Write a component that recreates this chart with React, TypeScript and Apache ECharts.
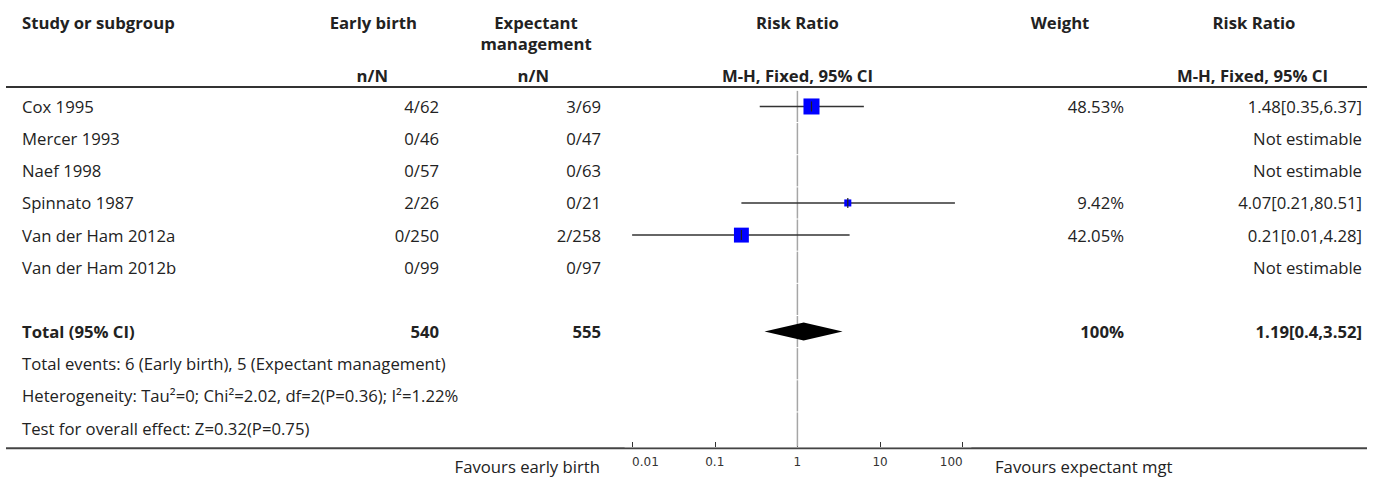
import React, { useEffect, useRef } from "react";
import * as echarts from "echarts";

// ---- Study data ----
const studies = [
  "Cox 1995",
  "Mercer 1993",
  "Naef 1998",
  "Spinnato 1987",
  "Van der Ham 2012a",
  "Van der Ham 2012b",
];
const earlyBirth = ["4/62", "0/46", "0/57", "2/26", "0/250", "0/99"];
const expectantMgmt = ["3/69", "0/47", "0/63", "0/21", "2/258", "0/97"];
const weights: (number | null)[] = [48.53, null, null, 9.42, 42.05, null];
const riskRatios: (number | null)[] = [1.48, null, null, 4.07, 0.21, null];
const ciLower: (number | null)[] = [0.35, null, null, 0.21, 0.01, null];
const ciUpper: (number | null)[] = [6.37, null, null, 80.51, 4.28, null];

// ---- Pooled result ----
const totalLabel = "Total (95% CI)";
const totalEarly = 540;
const totalExpectant = 555;
const totalWeight = 100;
const totalRR = 1.19;
const totalLower = 0.4;
const totalUpper = 3.52;

const footnotes = [
  "Total events: 6 (Early birth), 5 (Expectant management)",
  "Heterogeneity: Tau\u00b2=0; Chi\u00b2=2.02, df=2(P=0.36); I\u00b2=1.22%",
  "Test for overall effect: Z=0.32(P=0.75)",
];

// ---- Axis ----
const tickValues = [0.01, 0.1, 1, 10, 100];
const tickLabels = ["0.01", "0.1", "1", "10", "100"];
const axisFrom = 0.0082;
const axisTo = 126;

// ---- Layout ----
const W = 1373;
const H = 477;
const FONT = "'Open Sans', 'Noto Sans', sans-serif";
const FONT_SIZE = 16.7;
const TEXT = "#222";
const ROW_TOP = 90.4;
const ROW_BOTTOM = 447;
const Y_MIN = -0.5;
const Y_MAX = 10.59;
const TOTAL_ROW = 7;
const FOOT_ROW = 8;
const COL = { study: 22, early: 439, expectant: 601, weight: 1124, ratio: 1362 };

const lg = (v: number) => Math.log10(v);
const ciText = (rr: number, lo: number, hi: number) => `${rr}[${lo},${hi}]`;
const fontOf = (bold?: boolean) => `${bold ? "bold " : ""}${FONT_SIZE}px ${FONT}`;

type Cell = { x: number; row: number; text: string; align: string; bold?: boolean };

function buildCells(): Cell[] {
  const cells: Cell[] = [];
  studies.forEach((s, i) => {
    cells.push({ x: COL.study, row: i, text: s, align: "left" });
    cells.push({ x: COL.early, row: i, text: earlyBirth[i], align: "right" });
    cells.push({ x: COL.expectant, row: i, text: expectantMgmt[i], align: "right" });
    const w = weights[i];
    if (w != null) cells.push({ x: COL.weight, row: i, text: `${w}%`, align: "right" });
    const rr = riskRatios[i];
    const lo = ciLower[i];
    const hi = ciUpper[i];
    cells.push({
      x: COL.ratio,
      row: i,
      text: rr != null && lo != null && hi != null ? ciText(rr, lo, hi) : "Not estimable",
      align: "right",
    });
  });
  cells.push({ x: COL.study, row: TOTAL_ROW, text: totalLabel, align: "left", bold: true });
  cells.push({ x: COL.early, row: TOTAL_ROW, text: String(totalEarly), align: "right", bold: true });
  cells.push({ x: COL.expectant, row: TOTAL_ROW, text: String(totalExpectant), align: "right", bold: true });
  cells.push({ x: COL.weight, row: TOTAL_ROW, text: `${totalWeight}%`, align: "right", bold: true });
  cells.push({
    x: COL.ratio,
    row: TOTAL_ROW,
    text: ciText(totalRR, totalLower, totalUpper),
    align: "right",
    bold: true,
  });
  footnotes.forEach((f, k) => cells.push({ x: COL.study, row: FOOT_ROW + k, text: f, align: "left" }));
  return cells;
}

function headerText(text: string, x: number, y: number, align: string, bold = true) {
  return {
    type: "text",
    x,
    y,
    silent: true,
    style: {
      text,
      align,
      verticalAlign: "middle",
      font: fontOf(bold),
      fill: TEXT,
    },
  };
}

export default function App() {
  const ref = useRef<HTMLDivElement>(null);

  useEffect(() => {
    if (!ref.current) return;
    const chart = echarts.init(ref.current, null, { renderer: "svg" });
    const cells = buildCells();

    const studyPoints: number[][] = [];
    studies.forEach((_, i) => {
      const rr = riskRatios[i];
      const lo = ciLower[i];
      const hi = ciUpper[i];
      const w = weights[i];
      if (rr != null && lo != null && hi != null && w != null) {
        studyPoints.push([lg(rr), i, lg(lo), lg(hi), w]);
      }
    });

    const refRows: number[][] = [];
    for (let r = 0; r <= 10; r++) refRows.push([0, r]);

    const option: any = {
      animation: false,
      backgroundColor: "#fff",
      grid: [
        { left: 625, width: 346, top: ROW_TOP, height: ROW_BOTTOM - ROW_TOP },
        { left: 0, width: W, top: ROW_TOP, height: ROW_BOTTOM - ROW_TOP },
      ],
      xAxis: [
        {
          type: "value",
          gridIndex: 0,
          position: "bottom",
          min: lg(axisFrom),
          max: lg(axisTo),
          axisLine: { show: true, onZero: false, lineStyle: { color: "#999", width: 1 } },
          axisTick: {
            show: true,
            inside: true,
            length: 5,
            customValues: tickValues.map(lg),
            lineStyle: { color: "#333", width: 1 },
          },
          axisLabel: {
            show: true,
            customValues: tickValues.map(lg),
            margin: 9,
            fontFamily: "DejaVu Sans",
            fontSize: 12,
            color: "#333",
            alignMinLabel: "left",
            alignMaxLabel: "right",
            formatter: (v: number) => {
              const k = tickValues.findIndex((t) => Math.abs(lg(t) - v) < 1e-6);
              return k >= 0 ? tickLabels[k] : "";
            },
          },
          splitLine: { show: false },
        },
        {
          type: "value",
          gridIndex: 1,
          min: 0,
          max: W,
          show: false,
        },
      ],
      yAxis: [
        { type: "value", gridIndex: 0, min: Y_MIN, max: Y_MAX, inverse: true, show: false },
        { type: "value", gridIndex: 1, min: Y_MIN, max: Y_MAX, inverse: true, show: false },
      ],
      series: [
        // line of no effect, one segment per row
        {
          type: "custom",
          xAxisIndex: 0,
          yAxisIndex: 0,
          clip: false,
          data: refRows,
          renderItem: (_p: any, api: any) => {
            const r = api.value(1);
            const x = api.coord([api.value(0), r])[0];
            const y1 = api.coord([0, r - 0.5])[1] + 0.5;
            const y2 = api.coord([0, r === 10 ? Y_MAX : r + 0.5])[1] - 0.5;
            return {
              type: "line",
              shape: { x1: x, y1, x2: x, y2 },
              style: { stroke: "#a6a6a6", lineWidth: 1.5 },
            };
          },
        },
        // individual studies: CI whisker, weighted square, estimate tick
        {
          type: "custom",
          xAxisIndex: 0,
          yAxisIndex: 0,
          clip: false,
          data: studyPoints,
          renderItem: (_p: any, api: any) => {
            const row = api.value(1);
            const c = api.coord([api.value(0), row]);
            const lo = api.coord([api.value(2), row]);
            const hi = api.coord([api.value(3), row]);
            const size = 2.3 * Math.sqrt(api.value(4));
            return {
              type: "group",
              children: [
                {
                  type: "line",
                  shape: { x1: lo[0], y1: c[1], x2: hi[0], y2: c[1] },
                  style: { stroke: "#333", lineWidth: 1.5 },
                },
                {
                  type: "rect",
                  shape: { x: c[0] - size / 2, y: c[1] - size / 2, width: size, height: size },
                  style: { fill: "#0000ff" },
                },
                {
                  type: "line",
                  shape: { x1: c[0], y1: c[1] - 5, x2: c[0], y2: c[1] + 5 },
                  style: { stroke: "#222", lineWidth: 1.2 },
                },
              ],
            };
          },
        },
        // pooled estimate diamond
        {
          type: "custom",
          xAxisIndex: 0,
          yAxisIndex: 0,
          clip: false,
          data: [[lg(totalRR), TOTAL_ROW, lg(totalLower), lg(totalUpper)]],
          renderItem: (_p: any, api: any) => {
            const row = api.value(1);
            const c = api.coord([api.value(0), row]);
            const lo = api.coord([api.value(2), row]);
            const hi = api.coord([api.value(3), row]);
            const h = 9;
            return {
              type: "polygon",
              shape: {
                points: [
                  [lo[0], c[1]],
                  [c[0], c[1] - h],
                  [hi[0], c[1]],
                  [c[0], c[1] + h],
                ],
              },
              style: { fill: "#000" },
            };
          },
        },
        // table text
        {
          type: "custom",
          xAxisIndex: 1,
          yAxisIndex: 1,
          clip: false,
          data: cells.map((c) => [c.x, c.row]),
          renderItem: (p: any, api: any) => {
            const cell = cells[p.dataIndex];
            const pt = api.coord([api.value(0), api.value(1)]);
            return {
              type: "text",
              x: pt[0],
              y: pt[1],
              style: {
                text: cell.text,
                align: cell.align,
                verticalAlign: "middle",
                font: fontOf(cell.bold),
                fill: TEXT,
              },
            };
          },
        },
      ],
      graphic: [
        headerText("Study or subgroup", 22, 22, "left"),
        headerText("Early birth", 417, 22, "right"),
        headerText("Expectant", 536, 22, "center"),
        headerText("management", 536, 43, "center"),
        headerText("n/N", 388, 75, "right"),
        headerText("n/N", 549, 75, "right"),
        headerText("Risk Ratio", 797.5, 22, "center"),
        headerText("M-H, Fixed, 95% CI", 797.5, 75, "center"),
        headerText("Weight", 1060, 22, "center"),
        headerText("Risk Ratio", 1254, 22, "center"),
        headerText("M-H, Fixed, 95% CI", 1328, 75, "right"),
        {
          type: "line",
          silent: true,
          shape: { x1: 6, y1: 87, x2: 1367, y2: 87 },
          style: { stroke: "#333", lineWidth: 2 },
        },
        {
          type: "line",
          silent: true,
          z: -1,
          shape: { x1: 6, y1: 448.2, x2: 1367, y2: 448.2 },
          style: { stroke: "#444", lineWidth: 2 },
        },
        headerText("Favours early birth", 600, 466, "right", false),
        headerText("Favours expectant mgt", 995, 466, "left", false),
      ],
    };

    chart.setOption(option);
    return () => chart.dispose();
  }, []);

  return (
    <div
      ref={ref}
      style={{ position: "fixed", left: 0, top: 0, width: W, height: H, background: "#fff" }}
    />
  );
}
